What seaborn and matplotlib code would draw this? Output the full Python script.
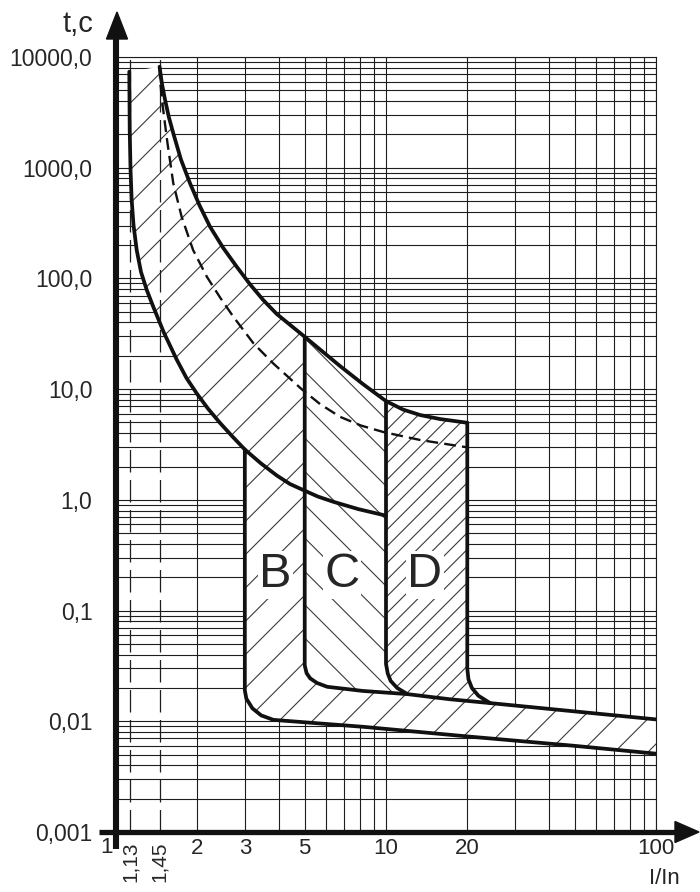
import matplotlib
matplotlib.use("Agg")
import matplotlib.pyplot as plt
import seaborn as sns
import pandas as pd
from matplotlib.lines import Line2D
from matplotlib.patches import Polygon
from matplotlib.transforms import Affine2D
from matplotlib.ticker import FixedLocator, NullFormatter

# ---------------- data (I/In multiples, t in seconds) ----------------
upper_I = [1.45, 1.478, 1.52, 1.569, 1.63, 1.74, 1.88, 2.04, 2.23, 2.49, 2.80, 3.13, 3.51,
           3.94, 5, 6.75, 8.22, 10, 11.56, 13.4, 15.85, 20]
upper_t = [8170, 5820, 4090, 2870, 2045, 1186, 723, 455, 293, 190, 127.5, 89, 63.8,
           47.7, 29.7, 16.2, 11.1, 7.8, 6.54, 5.83, 5.37, 4.97]

lower_I = [1.12, 1.124, 1.132, 1.143, 1.161, 1.193, 1.238, 1.30, 1.374, 1.506, 1.678, 1.824,
           1.99, 2.19, 2.43, 2.70, 3.0, 3.43, 3.94, 4.41, 5.0, 5.6, 6.38, 7.88, 10]
lower_t = [7360, 2190, 953, 511, 304, 180.5, 114, 78.6, 55.5, 32.2, 18.5, 12.6,
           9.16, 6.68, 4.94, 3.73, 2.85, 2.15, 1.66, 1.39, 1.21, 1.07, 0.961, 0.826, 0.72]

mid_I = [1.45, 1.459, 1.48, 1.512, 1.551, 1.63, 1.75, 1.93, 2.17, 2.43, 2.72, 3.23, 3.82,
         4.87, 5.7, 6.75, 8.08, 9.77, 13.4, 20]
mid_t = [8170, 5820, 4090, 2700, 1670, 723, 361, 180.5, 103.6, 67.2, 45.1, 25.9, 17.1,
         10.0, 7.33, 5.63, 4.69, 4.10, 3.47, 2.98]

B_I = [3, 3, 3.04, 3.2, 3.45, 3.83, 8.3, 20, 50, 100]
B_t = [2.85, 0.019, 0.016, 0.0131, 0.0113, 0.0103, 0.0089, 0.0073, 0.006, 0.0051]

C_I = [5, 5, 5.08, 5.24, 5.55, 6.05, 8.2, 12, 14.6, 17.3, 24.3, 100]
C_t = [29.7, 0.032, 0.0272, 0.0244, 0.0222, 0.0205, 0.0188, 0.0176, 0.0166, 0.0158, 0.0146, 0.0104]

DL_I = [10, 10, 10.15, 10.4, 11, 12]
DL_t = [7.8, 0.033, 0.027, 0.0232, 0.0200, 0.0176]

DR_I = [20, 20, 20.2, 20.8, 22, 24.3]
DR_t = [4.97, 0.030, 0.024, 0.0200, 0.0170, 0.0146]

zone_labels = ["B", "C", "D"]
zone_label_I = [3.9, 6.85, 13.9]
zone_label_t = [0.21, 0.21, 0.21]

y_ticks = [1e4, 1e3, 1e2, 1e1, 1, 0.1, 0.01, 0.001]
y_ticklabels = ["10000,0", "1000,0", "100,0", "10,0", "1,0", "0,1", "0,01", "0,001"]
x_ticks = [2, 3, 5, 10, 20, 100]
x_ticklabels = ["2", "3", "5", "10", "20", "100"]
x_minor = [4, 6, 7, 8, 9, 30, 40, 50, 60, 70, 80, 90]
marks_I = [1.13, 1.45]
marks_labels = ["1,13", "1,45"]

# ---------------- style ----------------
sns.set_style("white")
plt.rcParams["font.family"] = ["Liberation Sans", "DejaVu Sans"]
plt.rcParams["hatch.linewidth"] = 0.8

W, H = 700, 892
fig = plt.figure(figsize=(W / 100, H / 100), dpi=100)
ax = fig.add_axes([116 / W, 1 - 832 / H, (656 - 116) / W, (832 - 57) / H])
ax.set_xscale("log")
ax.set_yscale("log")
ax.set_xlim(1, 100)
ax.set_ylim(1e-3, 1e4)

TXT = "#262626"
LINE = "#111111"
GRID = "#1e1e1e"

# grid
y_minor = [m * 10.0 ** k for k in range(-3, 4) for m in range(2, 10)]
ax.xaxis.set_major_locator(FixedLocator(x_ticks))
ax.xaxis.set_minor_locator(FixedLocator(x_minor))
ax.yaxis.set_major_locator(FixedLocator(y_ticks))
ax.yaxis.set_minor_locator(FixedLocator(y_minor))
ax.set_xticklabels(x_ticklabels)
ax.set_yticklabels(y_ticklabels)
ax.xaxis.set_minor_formatter(NullFormatter())
ax.yaxis.set_minor_formatter(NullFormatter())
ax.tick_params(which="both", length=0)
ax.tick_params(axis="x", pad=4, labelsize=16, labelcolor=TXT)
ax.tick_params(axis="y", pad=17, labelsize=16.5, labelcolor=TXT)
ax.grid(True, which="both", color=GRID, lw=0.8)
ax.set_axisbelow(True)
for s in ["left", "bottom"]:
    ax.spines[s].set_visible(False)
for s in ["top", "right"]:
    ax.spines[s].set_color(GRID)
    ax.spines[s].set_linewidth(0.8)

# dashed reference lines at 1.13 and 1.45
for xi in marks_I:
    ax.axvline(xi, color=GRID, lw=0.9, ls=(0, (18, 6)), zorder=2.5)

# ---------------- hatched zones ----------------
lower_pts = list(zip(lower_I, lower_t))
upper_pts = list(zip(upper_I, upper_t))
B_pts = list(zip(B_I, B_t))
C_pts = list(zip(C_I, C_t))
DL = list(zip(DL_I, DL_t))
DR = list(zip(DR_I, DR_t))

poly_B = ([p for p in lower_pts if p[0] <= 3] + B_pts[1:] + C_pts[1:][::-1]
          + [C_pts[0]] + [p for p in upper_pts if p[0] < 5][::-1])
poly_C = ([p for p in C_pts if p[0] <= 12] + DL[:-1][::-1]
          + [p for p in upper_pts if 5 < p[0] < 10][::-1])
poly_D = (DL + [p for p in C_pts if 12 < p[0] <= 24.3] + DR[:-1][::-1]
          + [p for p in upper_pts if 10 < p[0] < 20][::-1])

for poly, hatch in [(poly_B, "/"), (poly_C, "\\"), (poly_D, "//")]:
    xs, ys = zip(*poly)
    ax.fill(xs, ys, facecolor="white", edgecolor="#3a3a3a", lw=0, hatch=hatch, zorder=2)

# ---------------- boundary curves ----------------
def curve(I, t, **kw):
    df = pd.DataFrame({"I": I, "t": t})
    sns.lineplot(data=df, x="I", y="t", sort=False, estimator=None, ax=ax,
                 color=LINE, zorder=3, **kw)

curve(lower_I, lower_t, lw=2.7)
curve(upper_I, upper_t, lw=2.7)
curve(mid_I, mid_t, lw=1.7, linestyle=(0, (5, 2.6)))
curve(B_I, B_t, lw=2.7)
curve(C_I, C_t, lw=2.7)
curve(DL_I, DL_t, lw=2.7)
curve(DR_I, DR_t, lw=2.7)
ax.set_xlabel("")
ax.set_ylabel("")

for lab, xi, yi in zip(zone_labels, zone_label_I, zone_label_t):
    ax.text(xi, yi, lab, fontsize=35, color=TXT, ha="center", va="center", zorder=4,
            bbox=dict(facecolor="white", edgecolor="none", pad=1))

# x labels outside tick locator
xt = ax.get_xaxis_transform()
ax.text(0.92, -0.0206, "1", transform=xt, ha="center", va="center", fontsize=16, color=TXT)
for xi, lab in zip(marks_I, marks_labels):
    ax.text(xi, -0.012, lab, transform=xt, ha="center", va="top", rotation=90,
            fontsize=15, color=TXT)

# ---------------- axes arrows (figure pixel coords) ----------------
pix = Affine2D().scale(1 / W, -1 / H).translate(0, 1) + fig.transFigure
fig.add_artist(Line2D([116, 116], [849, 36], lw=4.4, color=LINE, transform=pix, solid_capstyle="butt"))
fig.add_artist(Polygon([[106.5, 39], [127.5, 39], [117, 12]], closed=True, color=LINE, transform=pix))
fig.add_artist(Line2D([99, 677], [832, 832], lw=3.8, color=LINE, transform=pix, solid_capstyle="butt"))
fig.add_artist(Polygon([[675, 821.5], [675, 842.5], [699, 832]], closed=True, color=LINE, transform=pix))

fig.text(78 / W, 1 - 24 / H, "t,c", fontsize=21, color=TXT, ha="center", va="center")
fig.text(664 / W, 1 - 879 / H, "I/In", fontsize=16, color=TXT, ha="center", va="center")

fig.savefig("out.png", dpi=100, facecolor="white")
